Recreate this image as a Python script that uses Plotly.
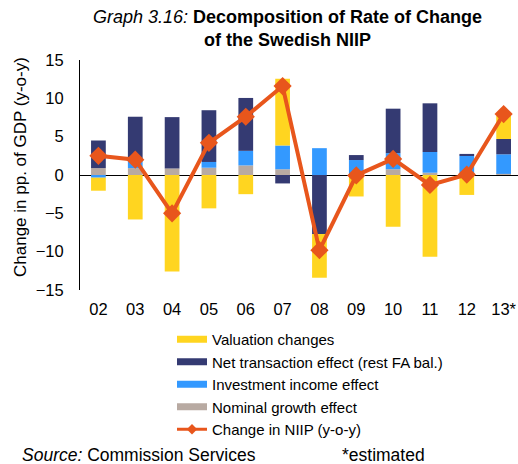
import plotly.graph_objects as go

categories = ["02", "03", "04", "05", "06", "07", "08", "09", "10", "11", "12", "13*"]
nominal_growth = [0.9, 0.9, 0.85, 0.95, 1.25, 0.75, 0.0, -0.2, 0.75, 0.3, 0.1, 0.15]
investment_income = [-0.35, 1.1, 0.0, 0.75, 1.9, 3.1, 3.5, 1.95, 2.1, 2.7, 2.4, 2.55]
net_transaction = [3.6, 5.6, 6.7, 6.75, 6.9, -1.1, -7.7, 0.65, 5.8, 6.35, 0.25, 2.0]
valuation = [-1.7, -5.8, -12.6, -4.35, -2.5, 8.7, -5.7, -2.6, -6.75, -10.65, -2.6, 3.05]
niip_change = [2.5, 2.0, -5.0, 4.2, 7.6, 11.6, -9.8, -0.05, 2.1, -1.3, 0.05, 7.95]
y_ticks = [-15, -10, -5, 0, 5, 10, 15]

C_YEL = "#FFD520"
C_NAVY = "#343A72"
C_BLUE = "#3399FF"
C_GRAY = "#B8AAA2"
C_ORANGE = "#E8561C"
FONT = "Liberation Sans, Arial, sans-serif"

fig = go.Figure()
for name, vals, col in [
    ("Nominal growth effect", nominal_growth, C_GRAY),
    ("Investment income effect", investment_income, C_BLUE),
    ("Net transaction effect (rest FA bal.)", net_transaction, C_NAVY),
    ("Valuation changes", valuation, C_YEL),
]:
    fig.add_trace(go.Bar(x=categories, y=vals, name=name, marker_color=col,
                         marker_line_width=0, showlegend=False))

fig.add_trace(go.Scatter(x=categories, y=niip_change, mode="lines+markers",
                         line=dict(color=C_ORANGE, width=4),
                         marker=dict(symbol="diamond", size=14, color=C_ORANGE),
                         showlegend=False))

# legend entries
for name, col in [
    ("Valuation changes", C_YEL),
    ("Net transaction effect (rest FA bal.)", C_NAVY),
    ("Investment income effect", C_BLUE),
    ("Nominal growth effect", C_GRAY),
]:
    fig.add_trace(go.Scatter(x=[None], y=[None], mode="lines", name=name,
                             line=dict(color=col, width=7)))
fig.add_trace(go.Scatter(x=[None], y=[None], mode="lines+markers", name="Change in NIIP (y-o-y)",
                         line=dict(color=C_ORANGE, width=3),
                         marker=dict(symbol="diamond", size=8, color=C_ORANGE)))

PL, PT, PW, PH = 80, 60, 438, 230
def px(xp):
    return (xp - PL) / PW
def py(yp):
    return (PT + PH - yp) / PH

fig.update_layout(
    width=518, height=464,
    margin=dict(l=PL, r=518 - PL - PW, t=PT, b=464 - PT - PH, autoexpand=False),
    paper_bgcolor="white", plot_bgcolor="white",
    barmode="relative", bargap=0.6,
    font=dict(family=FONT, size=16.5, color="black"),
    showlegend=True,
    legend=dict(x=px(172), xanchor="left", y=py(323), yanchor="top",
                traceorder="normal", font=dict(size=15), bgcolor="rgba(0,0,0,0)",
                tracegroupgap=0),
    xaxis=dict(type="category", range=[-0.5, 11.39], showline=False, showgrid=False,
               ticks="", zeroline=False, ticklabelstandoff=7),
    yaxis=dict(range=[-15, 15], tickvals=y_ticks, showline=True, linecolor="black",
               linewidth=1, showgrid=False, zeroline=True, zerolinecolor="black",
               zerolinewidth=1, ticks="", ticklabelstandoff=12),
    annotations=[
        dict(text="<i>Graph 3.16:</i> <b>Decomposition of Rate of Change</b><br><b>of the Swedish NIIP</b>",
             x=px(287), y=py(29), xref="paper", yref="paper", showarrow=False,
             xanchor="center", yanchor="middle", font=dict(size=18)),
        dict(text="Change in pp. of GDP (y-o-y)", textangle=-90, showarrow=False,
             x=px(20), y=py(167), xref="paper", yref="paper",
             xanchor="center", yanchor="middle", font=dict(size=17)),
        dict(text="<i>Source:</i> Commission Services", showarrow=False,
             x=px(20), y=py(455), xref="paper", yref="paper",
             xanchor="left", yanchor="middle", font=dict(size=17.5)),
        dict(text="*estimated", showarrow=False,
             x=px(340), y=py(455), xref="paper", yref="paper",
             xanchor="left", yanchor="middle", font=dict(size=17.5)),
    ],
)

fig.write_html("out.html", config={"displayModeBar": False},
               post_script="document.body.style.margin='0';")
